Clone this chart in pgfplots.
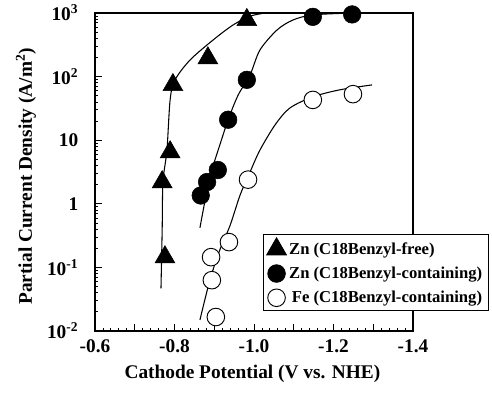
\documentclass[border=0pt]{standalone}
\usepackage{pgfplots}
\pgfplotsset{compat=1.18}
\usepackage{fontspec}
\setmainfont{Liberation Serif}
\begin{document}
\begin{tikzpicture}
\begin{axis}[
  name=ax,
  at={(0,0)}, anchor=south west,
  scale only axis,
  width=238.5pt, height=238.5pt,
  x dir=reverse,
  xmin=-1.4, xmax=-0.6,
  ymode=log, ymin=0.01, ymax=1000,
  axis line style={line width=0.9pt},
  tick style={black, line width=0.6pt},
  tick align=inside,
  xtick pos=bottom, ytick pos=left,
  xtick={-1.4,-1.3,-1.2,-1.1,-1.0,-0.9,-0.8,-0.7,-0.6},
  xticklabels={-1.4,,-1.2,,-1.0,,-0.8,,-0.6},
  minor x tick num=4,
  major tick length=5pt, minor tick length=2.5pt,
  ytick={0.01,0.1,1,10,100,1000},
  yticklabels={10\textsuperscript{-2},10\textsuperscript{-1},1,10,10\textsuperscript{2},10\textsuperscript{3}},
  ticklabel style={font=\fontsize{14.5}{16}\selectfont\bfseries},
  yticklabel style={xshift=-9pt},
  xticklabel style={yshift=-3pt},
  xlabel={Cathode Potential (V vs. NHE)},
  ylabel={Partial Current Density (A/m\textsuperscript{2})},
  label style={font=\fontsize{14.5}{17}\selectfont\bfseries, inner sep=0pt},
  xlabel style={at={(axis description cs:0.495,-0.107)}, anchor=north},
  ylabel style={at={(axis description cs:-0.217,0.487)}, anchor=center},
  legend style={at={(0.528,0.305)}, anchor=north west, draw=black, line width=0.6pt,
    font=\fontsize{12.5}{14}\selectfont\bfseries, inner sep=2.5pt,
    row sep=4pt, fill=white},
  legend cell align=left,
  clip=true,
]
% curves
\addplot[black, line width=0.8pt, smooth, forget plot] coordinates {
(-0.766,0.047) (-0.769,0.39) (-0.771,2.2) (-0.781,7.0) (-0.789,43) (-0.801,88)
(-0.839,182) (-0.897,376) (-0.947,646) (-0.99,890) (-1.028,1000)};
\addplot[black, line width=0.8pt, smooth, forget plot] coordinates {
(-0.864,0.42) (-0.882,1.65) (-0.894,3.4) (-0.914,8.4) (-0.935,21) (-0.96,51)
(-0.99,106) (-1.015,262) (-1.058,541) (-1.098,776) (-1.148,933) (-1.247,1000)};
\addplot[black, line width=0.8pt, smooth, forget plot] coordinates {
(-0.864,0.0149) (-0.889,0.063) (-0.914,0.188) (-0.94,0.46) (-0.965,1.37)
(-0.99,3.16) (-1.015,7.0) (-1.053,17.4) (-1.09,32) (-1.148,48) (-1.216,62) (-1.297,74)};
% marks
\addplot[only marks, mark=triangle*, mark size=8.6pt, black] coordinates {
(-0.776,0.145) (-0.769,2.2) (-0.789,6.5) (-0.796,74) (-0.884,195) (-0.982,780)};
\addlegendentry{Zn (C18Benzyl-free)}
\addplot[only marks, mark=*, mark size=6.6pt, black] coordinates {
(-0.866,1.35) (-0.882,2.2) (-0.909,3.4) (-0.935,21) (-0.982,89) (-1.148,870) (-1.247,950)};
\addlegendentry{Zn (C18Benzyl-containing)}
\addplot[only marks, mark=*, mark size=6.6pt, black, mark options={fill=white, line width=0.7pt}] coordinates {
(-0.904,0.0166) (-0.894,0.063) (-0.892,0.145) (-0.937,0.25) (-0.985,2.4) (-1.148,43) (-1.249,53)};
\addlegendentry{\hspace{2pt}Fe (C18Benzyl-containing)}
\end{axis}
\pgfresetboundingbox
\path (-71.25pt,-47.25pt) rectangle (297.75pt,248.25pt);
\end{tikzpicture}
\end{document}
